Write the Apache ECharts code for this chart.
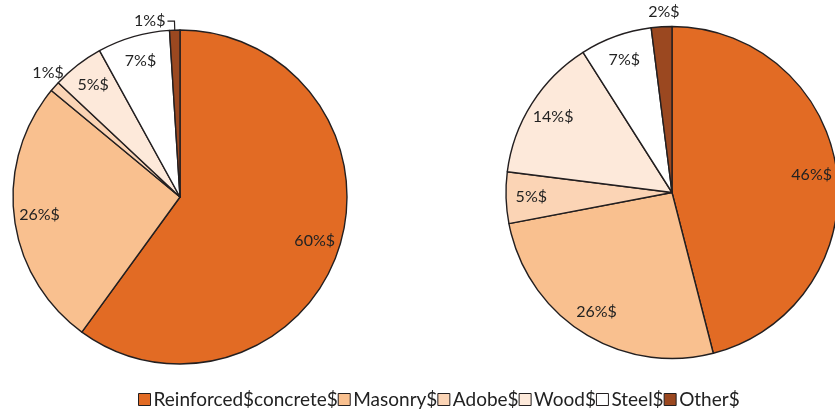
<!DOCTYPE html>
<html>
<head>
<meta charset="utf-8">
<script src="https://cdn.jsdelivr.net/npm/echarts@6/dist/echarts.min.js"></script>
<style>
  html, body { margin: 0; padding: 0; background: #ffffff; }
  #chart { width: 835px; height: 410px; }
</style>
</head>
<body>
<div id="chart"></div>
<script>
// Building types and their shares (%) in the two inventories
const categories = ['Reinforced$concrete$', 'Masonry$', 'Adobe$', 'Wood$', 'Steel$', 'Other$'];
const leftValues = [60, 26, 1, 5, 7, 1];
const rightValues = [46, 26, 5, 14, 7, 2];
const sliceColors = ['#E26B24', '#F9C08F', '#FBD4B5', '#FDE9DA', '#FFFFFF', '#9B4820'];

const FONT = 'Lato, "Open Sans", sans-serif';
const INK = '#222222';
const EDGE = '#231F20';

const chart = echarts.init(document.getElementById('chart'), null, { renderer: 'canvas' });

function sliceData(values) {
  return values.map((v, i) => ({
    name: categories[i],
    value: v,
    itemStyle: { color: sliceColors[i] }
  }));
}

// Label-only ring: inside labels land at (r0 + r) / 2 of this ring
function labelData(values, outsideIdx) {
  return values.map((v, i) => {
    const item = { name: categories[i], value: v };
    if (outsideIdx[i]) item.label = outsideIdx[i];
    return item;
  });
}

function pieSeries(center, radius, values) {
  return {
    type: 'pie',
    center: center,
    radius: radius,
    startAngle: 90,
    clockwise: true,
    silent: true,
    avoidLabelOverlap: false,
    label: { show: false },
    labelLine: { show: false },
    emphasis: { disabled: true },
    itemStyle: { borderColor: EDGE, borderWidth: 1.4 },
    data: sliceData(values)
  };
}

function labelSeries(center, radius, values, outsideIdx, offsets) {
  return {
    type: 'pie',
    center: center,
    radius: [radius * 0.66, radius],
    startAngle: 90,
    clockwise: true,
    silent: true,
    avoidLabelOverlap: false,
    emphasis: { disabled: true },
    itemStyle: { color: 'transparent', borderWidth: 0 },
    label: {
      show: true,
      position: 'inside',
      formatter: p => p.value + '%$',
      color: INK,
      fontFamily: FONT,
      fontSize: 16
    },
    labelLine: { show: false },
    labelLayout: p => offsets[p.dataIndex] || {},
    data: labelData(values, outsideIdx)
  };
}

const leftOutside = {
  2: { position: 'outside', distanceToLabelLine: 0 },
  5: { position: 'outside', distanceToLabelLine: 2 }
};
const rightOutside = {
  5: { position: 'outside', distanceToLabelLine: 0 }
};

const leftSeries = pieSeries([180, 197], 167, leftValues);
const leftLabels = labelSeries([180, 197], 167, leftValues, leftOutside, { 2: { dx: 24, dy: 0 } });
leftLabels.data[2].labelLine = { show: false, length: 20, length2: 0 };
leftLabels.data[5].labelLine = {
  show: true, length: 9, length2: 7,
  lineStyle: { color: EDGE, width: 1.2 }
};

const rightSeries = pieSeries([672, 192.5], 166, rightValues);
const rightLabels = labelSeries([672, 192.5], 166, rightValues, rightOutside, { 5: { dx: 19, dy: 0 } });
rightLabels.data[5].labelLine = { show: false, length: 15, length2: 0 };

chart.setOption({
  animation: false,
  backgroundColor: '#ffffff',
  legend: {
    left: 133,
    top: 385,
    itemWidth: 12,
    itemHeight: 12,
    itemGap: 0,
    icon: 'rect',
    selectedMode: false,
    data: categories.map((c, i) => ({
      name: c,
      itemStyle: { color: sliceColors[i], borderColor: EDGE, borderWidth: 1 }
    })),
    textStyle: {
      fontFamily: FONT,
      fontSize: 19,
      color: INK,
      padding: [0, 0, 0, -2]
    }
  },
  series: [leftSeries, rightSeries, leftLabels, rightLabels]
});
</script>
</body>
</html>
